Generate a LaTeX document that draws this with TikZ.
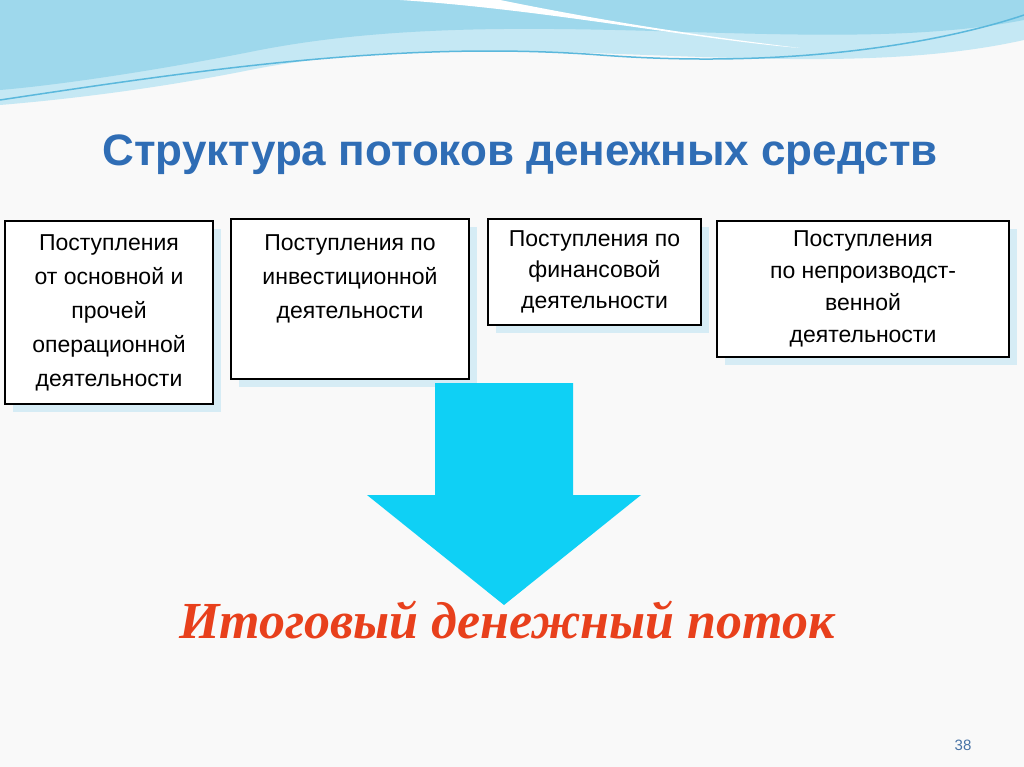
\documentclass[tikz,border=0pt]{standalone}
\usepackage{fontspec}
\setmainfont{Liberation Sans}
\newfontfamily\serifit{Liberation Serif}
\definecolor{ttl}{HTML}{2F6DB5}
\definecolor{arr}{HTML}{0FD0F5}
\definecolor{red1}{HTML}{E8401C}
\definecolor{shd}{HTML}{D6ECF5}
\definecolor{wave1}{HTML}{9ED8EC}
\definecolor{wave2}{HTML}{5BB8DC}
\begin{document}
\begin{tikzpicture}[x=1pt,y=-1pt,
  box/.style={draw=black,line width=1.6pt,fill=white,align=center,font=\fontsize{23}{34}\selectfont,inner sep=0pt}]
\useasboundingbox (0,0) rectangle (1024,767);
\fill[white!95!gray] (0,0) rectangle (1024,767);
% waves
\fill[wave1!60] (0,0) -- (1024,0) -- (1024,40) .. controls (800,90) and (500,20) .. (250,70) .. controls (150,90) and (60,100) .. (0,105) -- cycle;
\fill[wave1] (0,0) -- (1024,0) -- (1024,20) .. controls (820,60) and (520,0) .. (260,50) .. controls (160,70) and (60,85) .. (0,90) -- cycle;
\fill[white] (400,0) .. controls (550,10) and (700,40) .. (800,48) .. controls (650,30) and (550,10) .. (500,0) -- cycle;
\draw[wave2,line width=1.5pt] (0,100) .. controls (200,70) and (400,40) .. (600,55) .. controls (800,70) and (950,40) .. (1024,15);
\node[font=\bfseries\fontsize{44}{46}\selectfont,text=ttl] (title) at (520,155) {Структура потоков денежных средств};
% shadows
\foreach \a/\b/\c/\d in {5/221/213/404,231/219/469/379,488/219/701/325,717/221/1009/357}
  \fill[shd] (\a+8,\b+8) rectangle (\c+8,\d+8);
\node[box,minimum width=208pt,minimum height=183pt] (b1) at (109,312.5) {Поступления\\от основной и\\прочей\\операционной\\деятельности};
\node[box,minimum width=238pt,minimum height=160pt] (b2) at (350,299) {Поступления по\\инвестиционной\\деятельности\\\strut};
\node[box,minimum width=213pt,minimum height=106pt,font=\fontsize{23}{31}\selectfont] (b3) at (594.5,272) {Поступления по\\финансовой\\деятельности};
\node[box,minimum width=292pt,minimum height=136pt,font=\fontsize{23}{32}\selectfont] (b4) at (863,289) {Поступления\\по непроизводст-\\венной\\деятельности};
\fill[arr] (435,383) -- (573,383) -- (573,495) -- (641,495) -- (504,605) -- (367,495) -- (435,495) -- cycle;
\node[font=\serifit\bfseries\itshape\fontsize{52}{54}\selectfont,text=red1] (res) at (507,620) {Итоговый денежный поток};
\node[font=\fontsize{15}{16}\selectfont,text=ttl!70!gray] (pg) at (963,745) {38};
\end{tikzpicture}
\end{document}
